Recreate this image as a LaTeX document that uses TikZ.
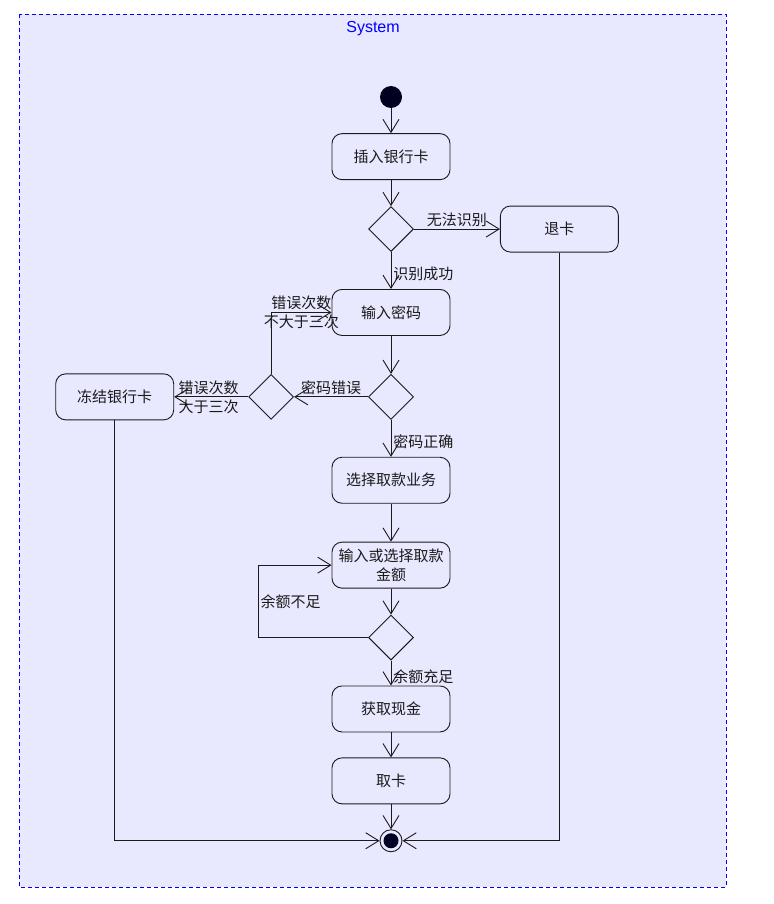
\documentclass[tikz,border=0pt]{standalone}
\usepackage{fontspec}
\usetikzlibrary{arrows.meta, positioning, shapes.geometric}
\newfontfamily\cjk{Noto Sans CJK SC}
\setsansfont{Liberation Sans}
\definecolor{lavender}{HTML}{E8E8FF}
\definecolor{sysblue}{HTML}{0000FF}
\definecolor{ink}{HTML}{1A1A1A}
\definecolor{dotblack}{HTML}{000020}
\tikzset{
  action/.style={rectangle, rounded corners=10pt, draw=ink, line width=0.9pt, fill=lavender,
    minimum width=118pt, minimum height=46pt, align=center,
    font=\cjk\fontsize{15pt}{19pt}\selectfont, text=ink},
  choice/.style={diamond, draw=ink, line width=0.9pt, fill=lavender, aspect=1,
    minimum width=45pt, minimum height=45pt, inner sep=0pt},
  startdot/.style={circle, fill=dotblack, minimum size=22pt, inner sep=0pt},
  enddot/.style={circle, draw=ink, line width=0.9pt, fill=lavender, minimum size=22pt, inner sep=0pt,
    path picture={\fill[dotblack] (path picture bounding box.center) circle (7.5pt);}},
  arrow/.style={-{Straight Barb[length=13pt, width=16pt]}, ink, line width=0.9pt},
  guard/.style={font=\cjk\fontsize{15pt}{19pt}\selectfont, text=ink, inner sep=2pt, align=center},
  frame/.style={draw=sysblue, dash pattern=on 4pt off 3pt, fill=lavender},
}

\begin{document}
\begin{tikzpicture}[node distance=25pt]
\useasboundingbox (0,0) rectangle (773pt,-904pt);
\draw[frame] (19pt,-14pt) rectangle (726pt,-887pt);
\node[font=\sffamily\fontsize{16pt}{18pt}\selectfont, text=sysblue] (sys) at (373pt,-29pt) {System};

\node[startdot] (start) at (391pt,-97pt) {};
\node[action, below=of start] (ins) {插入银行卡};
\node[choice, below=26pt of ins] (d1) {};
\node[action, right=86pt of d1] (back) {退卡};
\node[action, below=37pt of d1] (pwd) {输入密码};
\node[choice, below=38pt of pwd] (d2) {};
\node[choice, left=74pt of d2] (d3) {};
\node[action, left=74pt of d3] (freeze) {冻结银行卡};
\node[action, below=37pt of d2] (choose) {选择取款业务};
\node[action, below=38pt of choose] (amount) {输入或选择取款\\金额};
\node[choice, below=26pt of amount] (d4) {};
\node[action, below=of d4] (cash) {获取现金};
\node[action, below=of cash] (take) {取卡};
\node[enddot, below=of take] (end) {};

\foreach \a/\b in {start/ins,ins/d1,pwd/d2,choose/amount,amount/d4,cash/take,take/end}
  \draw[arrow] (\a)--(\b);

\draw[arrow] (d1) -- node[guard, above]{无法识别} (back);
\draw[arrow] (d1) -- node[guard, right, pos=0.58]{识别成功} (pwd);
\draw[arrow] (d2) -- node[guard, above]{密码错误} (d3);
\draw[arrow] (d3) |- node[guard, pos=0.75]{错误次数\\不大于三次} (pwd);
\draw[arrow] (d3) -- node[guard, pos=1, anchor=west, align=left, xshift=2pt]{错误次数\\大于三次} (freeze);
\draw[arrow] (d2) -- node[guard, right, pos=0.58]{密码正确} (choose);
\draw[arrow] (d4.west) -- ++(-110pt,0) |- node[guard, right, pos=0.25]{余额不足} (amount.west);
\draw[arrow] (d4) -- node[guard, right, pos=0.65]{余额充足} (cash);
\draw[arrow] (freeze) |- (end);
\draw[arrow] (back) |- (end);
\end{tikzpicture}
\end{document}
